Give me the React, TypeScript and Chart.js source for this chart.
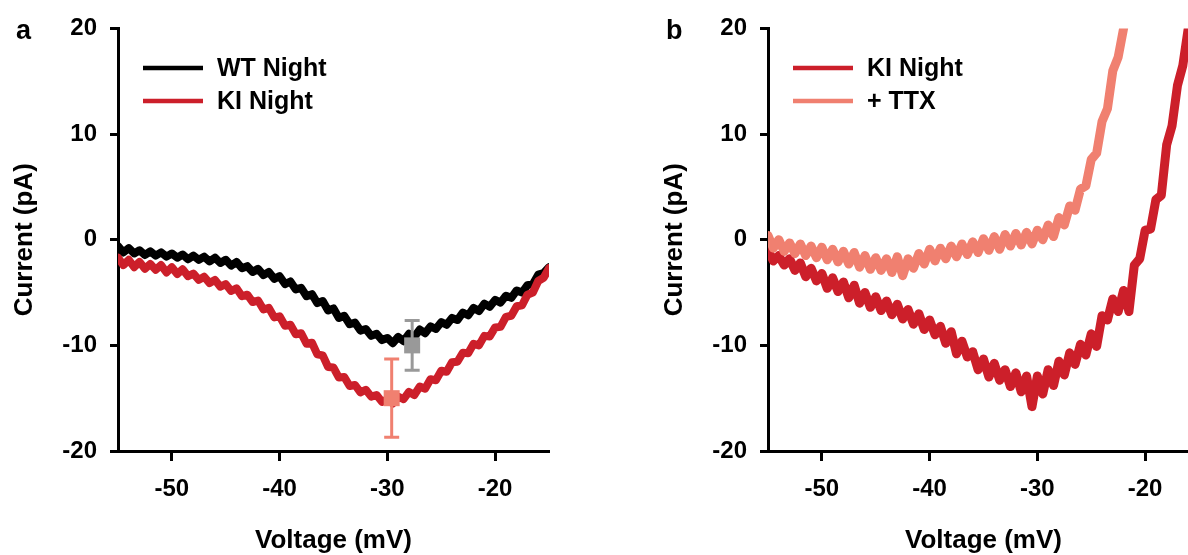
import React, { useEffect, useRef } from "react";
import { Chart, registerables } from "chart.js";

Chart.register(...registerables);

// ---------- data ----------
const VOLTAGE = [
  -55, -54.5, -54, -53.5, -53, -52.5, -52, -51.5, -51, -50.5,
  -50, -49.5, -49, -48.5, -48, -47.5, -47, -46.5, -46, -45.5,
  -45, -44.5, -44, -43.5, -43, -42.5, -42, -41.5, -41, -40.5,
  -40, -39.5, -39, -38.5, -38, -37.5, -37, -36.5, -36, -35.5,
  -35, -34.5, -34, -33.5, -33, -32.5, -32, -31.5, -31, -30.5,
  -30, -29.5, -29, -28.5, -28, -27.5, -27, -26.5, -26, -25.5,
  -25, -24.5, -24, -23.5, -23, -22.5, -22, -21.5, -21, -20.5,
  -20, -19.5, -19, -18.5, -18, -17.5, -17, -16.5, -16, -15.5,
  -15,
];

const WT_NIGHT_A = [
  -0.6, -1.2, -0.8, -1.3, -1.0, -1.45, -1.1, -1.5, -1.2, -1.6,
  -1.3, -1.7, -1.4, -1.85, -1.5, -1.9, -1.6, -2.05, -1.7, -2.2,
  -1.9, -2.45, -2.1, -2.7, -2.5, -3.05, -2.75, -3.35, -3.05, -3.7,
  -3.45, -4.2, -3.95, -4.7, -4.55, -5.35, -5.15, -6.0, -5.8, -6.7,
  -6.5, -7.4, -7.2, -8.0, -7.85, -8.6, -8.45, -9.1, -8.9, -9.5,
  -9.3, -9.8, -9.2, -9.6, -8.9, -9.2, -8.5, -8.85, -8.2, -8.45,
  -7.8, -8.05, -7.4, -7.6, -6.9, -7.15, -6.45, -6.75, -6.05, -6.35,
  -5.7, -5.95, -5.3, -5.5, -4.8, -5.0, -4.3, -4.2, -3.3, -3.15,
  -2.6,
];

const KI_NIGHT_A = [
  -1.7, -2.4, -1.9, -2.6, -2.1, -2.75, -2.3, -2.85, -2.4, -3.1,
  -2.6, -3.25, -2.8, -3.45, -3.2, -3.8, -3.5, -4.1, -3.8, -4.45,
  -4.2, -4.85, -4.6, -5.35, -5.2, -5.9, -5.75, -6.6, -6.45, -7.35,
  -7.25, -8.15, -8.05, -8.95, -8.85, -9.85, -9.75, -10.85, -10.95, -12.05,
  -12.1, -13.05, -13.0, -13.85, -13.75, -14.45, -14.2, -14.85, -14.7, -15.35,
  -15.1, -15.5, -14.85, -15.1, -14.4, -14.7, -13.9, -14.1, -13.2, -13.3,
  -12.4, -12.5, -11.6, -11.55, -10.7, -10.75, -9.85, -10.0, -9.1, -9.15,
  -8.3, -8.25, -7.3, -7.2, -6.3, -6.2, -5.2, -5.0, -3.9, -3.6,
  -2.7,
];

const KI_NIGHT_B = [
  -1.0, -2.0, -1.5, -2.4, -1.8, -2.9, -2.2, -3.5, -2.7, -3.9,
  -3.2, -4.6, -3.6, -4.9, -4.0, -5.5, -4.3, -6.0, -5.0, -6.4,
  -5.4, -6.7, -5.8, -7.1, -6.1, -7.5, -6.6, -8.0, -7.0, -8.5,
  -7.6, -9.0, -8.2, -9.8, -8.7, -10.8, -9.6, -11.1, -10.6, -12.3,
  -11.3, -13.0, -11.7, -13.3, -12.3, -13.9, -12.6, -14.4, -12.9, -15.8,
  -12.9, -14.6, -12.3, -13.8, -11.5, -12.8, -10.7, -11.8, -9.9, -10.9,
  -8.9, -10.1, -7.2, -7.6, -5.6, -6.8, -4.8, -6.8, -2.4, -1.8,
  0.9, 1.0, 3.8, 4.2, 9.0, 10.8, 14.6, 16.5, 20.0,
];

const TTX_B = [
  0.4, -0.8, 0.0, -1.1, -0.3, -1.3, -0.4, -1.5, -0.6, -1.7,
  -0.7, -1.9, -0.9, -2.1, -1.1, -2.3, -1.2, -2.6, -1.5, -2.8,
  -1.7, -2.9, -1.8, -3.1, -1.6, -3.4, -1.8, -2.7, -1.3, -2.3,
  -0.9, -2.0, -0.8, -1.8, -0.6, -1.6, -0.4, -1.4, -0.2, -1.2,
  0.1, -1.0, 0.3, -0.9, 0.5, -0.6, 0.6, -0.5, 0.7, -0.4,
  0.9, 0.0, 1.4, 0.3, 2.1, 1.4, 3.2, 2.8, 4.8, 5.1,
  7.6, 8.2, 11.2, 12.4, 16.0, 17.3, 20.0,
];

const X_TICKS = [-50, -40, -30, -20];
const Y_TICKS = [-20, -10, 0, 10, 20];

// mean ± SEM markers (panel a)
const ERR_VOLT = [-27.7, -29.6];
const ERR_MEAN = [-10.0, -15.0];
const ERR_SEM = [2.35, 3.7];

const BLACK = "#000000";
const RED = "#CC1F2A";
const SALMON = "#F08070";
const GRAY = "#999999";
const ERR_COLORS = [GRAY, SALMON];

const FONT = '"Liberation Sans", Arial, Helvetica, sans-serif';

function pts(v: number[], y: number[]) {
  return y.map((val, i) => ({ x: v[i], y: val }));
}

function makeOverlay(cfg: {
  letter: string;
  legend: { label: string; color: string }[];
  errors: boolean;
}) {
  return {
    id: "overlay",
    afterDatasetsDraw(chart: any) {
      if (!cfg.errors) return;
      const { ctx } = chart;
      const xs = chart.scales.x;
      const ys = chart.scales.y;
      ctx.save();
      ERR_VOLT.forEach((v, i) => {
        const px = xs.getPixelForValue(v);
        const py = ys.getPixelForValue(ERR_MEAN[i]);
        const top = ys.getPixelForValue(ERR_MEAN[i] + ERR_SEM[i]);
        const bot = ys.getPixelForValue(ERR_MEAN[i] - ERR_SEM[i]);
        ctx.strokeStyle = ERR_COLORS[i];
        ctx.fillStyle = ERR_COLORS[i];
        ctx.lineWidth = 3;
        ctx.beginPath();
        ctx.moveTo(px, top);
        ctx.lineTo(px, bot);
        ctx.moveTo(px - 7.5, top);
        ctx.lineTo(px + 7.5, top);
        ctx.moveTo(px - 7.5, bot);
        ctx.lineTo(px + 7.5, bot);
        ctx.stroke();
        ctx.fillRect(px - 8, py - 8, 16, 16);
      });
      ctx.restore();
    },
    afterDraw(chart: any) {
      const { ctx, chartArea } = chart;
      ctx.save();
      ctx.fillStyle = "#000";
      ctx.font = `bold 27px ${FONT}`;
      ctx.textAlign = "left";
      ctx.textBaseline = "alphabetic";
      ctx.fillText(cfg.letter, 16, 39);
      cfg.legend.forEach((item, i) => {
        const y = chartArea.top + 39.5 + i * 33;
        ctx.strokeStyle = item.color;
        ctx.lineWidth = 4.5;
        ctx.beginPath();
        ctx.moveTo(chartArea.left + 25, y);
        ctx.lineTo(chartArea.left + 85, y);
        ctx.stroke();
        ctx.font = `bold 25px ${FONT}`;
        ctx.textBaseline = "middle";
        ctx.fillStyle = "#000";
        ctx.fillText(item.label, chartArea.left + 99, y + 1);
      });
      ctx.restore();
    },
  };
}

function makeConfig(datasets: any[], overlay: any): any {
  const tickFont = { family: FONT, size: 24, weight: "bold" as const };
  const titleFont = { family: FONT, size: 26, weight: "bold" as const, lineHeight: 1 };
  return {
    type: "line",
    data: { datasets },
    options: {
      animation: false,
      responsive: false,
      devicePixelRatio: 1,
      parsing: false,
      normalized: true,
      layout: { padding: { left: 0, right: 45, top: 28.5, bottom: 0 } },
      plugins: {
        legend: { display: false },
        tooltip: { enabled: false },
      },
      elements: {
        point: { radius: 0 },
        line: { tension: 0, borderJoinStyle: "round", borderCapStyle: "round" },
      },
      scales: {
        x: {
          type: "linear",
          min: -55,
          max: -15,
          afterBuildTicks: (s: any) => {
            s.ticks = X_TICKS.map((v) => ({ value: v }));
          },
          afterFit: (s: any) => {
            s.height = 104;
          },
          grid: {
            drawOnChartArea: false,
            drawTicks: true,
            tickLength: 10,
            tickWidth: 3,
            tickColor: "#000",
          },
          border: { display: true, color: "#000", width: 3 },
          ticks: { color: "#000", font: tickFont, padding: 14, maxRotation: 0 },
          title: {
            display: true,
            text: "Voltage (mV)",
            color: "#000",
            font: titleFont,
            padding: { top: 0, bottom: 1 },
          },
        },
        y: {
          type: "linear",
          min: -20,
          max: 20,
          afterBuildTicks: (s: any) => {
            s.ticks = Y_TICKS.map((v) => ({ value: v }));
          },
          afterFit: (s: any) => {
            s.width = 118;
          },
          grid: {
            drawOnChartArea: false,
            drawTicks: true,
            tickLength: 8,
            tickWidth: 3,
            tickColor: "#000",
          },
          border: { display: true, color: "#000", width: 3 },
          ticks: { color: "#000", font: tickFont, padding: 13 },
          title: {
            display: true,
            text: "Current (pA)",
            color: "#000",
            font: titleFont,
            padding: { top: 12, bottom: 0 },
          },
        },
      },
    },
    plugins: [overlay],
  };
}

function Panel({ left, build }: { left: number; build: () => any }) {
  const ref = useRef<HTMLCanvasElement | null>(null);
  useEffect(() => {
    if (!ref.current) return;
    const chart = new Chart(ref.current, build());
    return () => chart.destroy();
  }, []);
  return (
    <canvas
      ref={ref}
      width={594}
      height={555}
      style={{ position: "absolute", left, top: 0, width: 594, height: 555 }}
    />
  );
}

export default function App() {
  const buildA = () =>
    makeConfig(
      [
        {
          label: "KI Night",
          data: pts(VOLTAGE, KI_NIGHT_A),
          borderColor: RED,
          borderWidth: 8,
          fill: false,
        },
        {
          label: "WT Night",
          data: pts(VOLTAGE, WT_NIGHT_A),
          borderColor: BLACK,
          borderWidth: 8,
          fill: false,
        },
      ],
      makeOverlay({
        letter: "a",
        legend: [
          { label: "WT Night", color: BLACK },
          { label: "KI Night", color: RED },
        ],
        errors: true,
      })
    );
  const buildB = () =>
    makeConfig(
      [
        {
          label: "+ TTX",
          data: pts(VOLTAGE, TTX_B),
          borderColor: SALMON,
          borderWidth: 9,
          fill: false,
        },
        {
          label: "KI Night",
          data: pts(VOLTAGE, KI_NIGHT_B),
          borderColor: RED,
          borderWidth: 9,
          fill: false,
        },
      ],
      makeOverlay({
        letter: "b",
        legend: [
          { label: "KI Night", color: RED },
          { label: "+ TTX", color: SALMON },
        ],
        errors: false,
      })
    );
  return (
    <div
      style={{
        position: "fixed",
        left: 0,
        top: 0,
        width: 1188,
        height: 555,
        overflow: "hidden",
        background: "#fff",
      }}
    >
      <Panel left={0} build={buildA} />
      <Panel left={650} build={buildB} />
    </div>
  );
}
